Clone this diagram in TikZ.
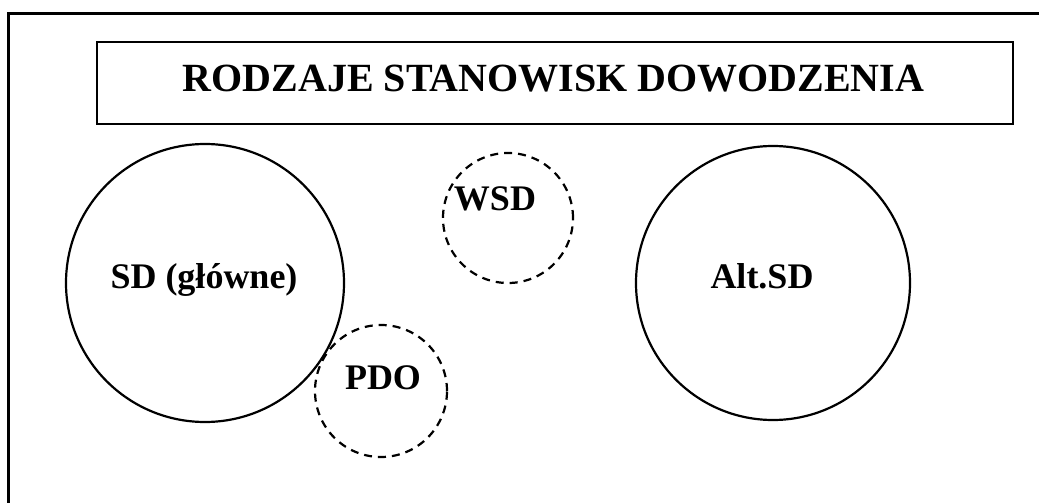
\documentclass[tikz,border=0pt]{standalone}
\usepackage{fontspec}
\setmainfont{Liberation Serif}
\tikzset{
  solidcirc/.style={circle, draw, line width=2.2pt, inner sep=0pt},
  dashcirc/.style={circle, draw, line width=2.2pt, inner sep=0pt, dash pattern=on 8pt off 6pt},
  lbl/.style={anchor=base, inner sep=0pt, font=\fontsize{36}{40}\selectfont\bfseries},
}
\begin{document}
\begin{tikzpicture}[x=1pt,y=-1pt]
\useasboundingbox (0,0) rectangle (1039,503);
\fill[white] (0,0) rectangle (1039,503);
\coordinate (fa) at (8,520);
\coordinate (fb) at (8,14);
\coordinate (fc) at (1060,14);
\draw[line width=3pt] (fa) -- (fb) -- (fc);
\node[draw, line width=2pt, minimum width=916pt, minimum height=82pt, inner sep=0pt] (titlebox) at (555,83) {};
\node[lbl, font=\fontsize{40}{44}\selectfont\bfseries] (title) at (553.5,92) {RODZAJE STANOWISK DOWODZENIA};
\node[solidcirc, minimum size=278pt] (sd) at (205,283) {};
\node[solidcirc, minimum size=274pt] (alt) at (773,283) {};
\node[dashcirc, minimum size=130pt] (wsd) at (508,218) {};
\node[dashcirc, minimum size=132pt] (pdo) at (381,391) {};
\node[lbl] (sdt) at (204,288) {SD (główne)};
\node[lbl] (altt) at (762,288) {Alt.SD};
\node[lbl] (wsdt) at (495,210) {WSD};
\node[lbl] (pdot) at (383,389) {PDO};
\end{tikzpicture}
\end{document}
